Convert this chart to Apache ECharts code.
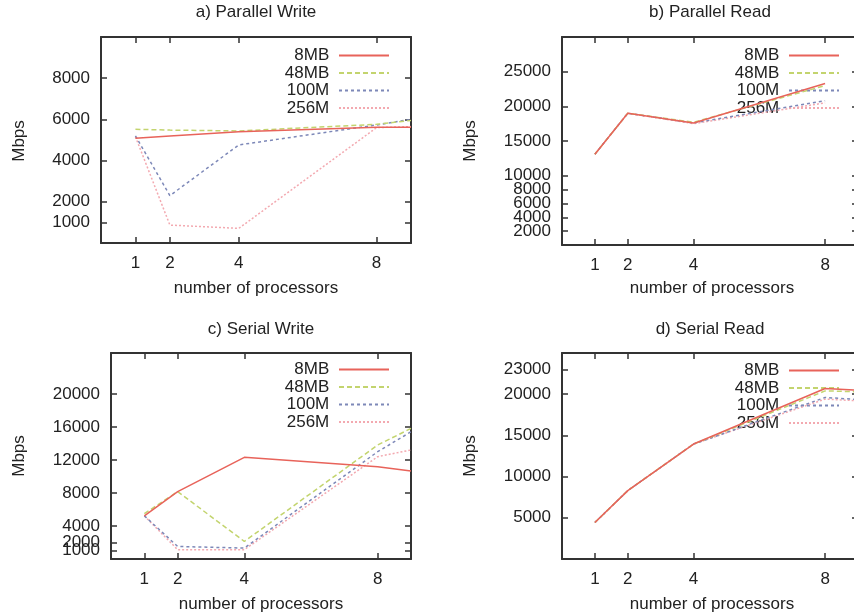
<!DOCTYPE html>
<html><head><meta charset="utf-8">
<script src="https://cdn.jsdelivr.net/npm/echarts@6/dist/echarts.min.js"></script>
<style>html,body{margin:0;padding:0;background:#fff}#c{width:854px;height:616px}</style>
</head><body><div id="c"></div>
<script>
const seriesNames = ['8MB','48MB','100M','256M'];
const xTickValues = [1,2,4,8];
// a) Parallel Write
const pwX = [1,2,4,8,9];
const pw8MB = [5080,5200,5400,5620,5620];
const pw48MB = [5520,5480,5440,5760,5950];
const pw100M = [5200,2300,4760,5730,6000];
const pw256M = [5160,870,710,5600,5650];
const pwYTicks = [1000,2000,4000,6000,8000];
// b) Parallel Read
const prX = [1,2,4,8];
const pr8MB = [13100,19000,17600,23300];
const pr48MB = [13100,19000,17700,23000];
const pr100M = [13100,19000,17600,20800];
const pr256M = [13100,19000,17500,20500];
const prYTicks = [2000,4000,6000,8000,10000,15000,20000,25000];
// c) Serial Write
const swX = [1,2,4,8,9];
const sw8MB = [5240,8180,12340,11200,10680];
const sw48MB = [5500,8180,2130,13830,15850];
const sw100M = [5240,1520,1330,13020,15440];
const sw256M = [5240,1130,1130,12420,13230];
const swYTicks = [1000,2000,4000,8000,12000,16000,20000];
// d) Serial Read
const srX = [1,2,4,8,9];
const sr8MB = [4430,8300,13950,20690,20490];
const sr48MB = [4430,8300,13950,20400,20300];
const sr100M = [4430,8300,13950,19600,19360];
const sr256M = [4430,8300,13950,19400,19200];
const srYTicks = [5000,10000,15000,20000,23000];

const FONT = 'Liberation Sans';
const TXT = '#222';
const AX = '#333';
const colors = ['#e8635a','#c3d46e','#7d88b8','#f3a9b0'];
const dashes = ['solid',[5,3],[3,3],[2,2]];

const panels = [
  {title:'a) Parallel Write', x:pwX, ys:[pw8MB,pw48MB,pw100M,pw256M], yTicks:pwYTicks, ymax:10000,
   grid:{left:101,top:37,width:310,height:206}, legend:{right:464,top:47}, tx:256, ty:12.5, nx:256, ny:288.5, mx:19, my:141},
  {title:'b) Parallel Read', x:prX, ys:[pr8MB,pr48MB,pr100M,pr256M], yTicks:prYTicks, ymax:30000,
   grid:{left:562,top:37,width:296,height:208}, legend:{right:14,top:47}, tx:710, ty:12.5, nx:712, ny:288.5, mx:470, my:141},
  {title:'c) Serial Write', x:swX, ys:[sw8MB,sw48MB,sw100M,sw256M], yTicks:swYTicks, ymax:25000,
   grid:{left:111,top:353,width:300,height:206}, legend:{right:464,top:361}, tx:261, ty:329, nx:261, ny:604.5, mx:19, my:456},
  {title:'d) Serial Read', x:srX, ys:[sr8MB,sr48MB,sr100M,sr256M], yTicks:srYTicks, ymax:25000,
   grid:{left:562,top:353,width:296,height:206}, legend:{right:14,top:362}, tx:710, ty:329, nx:712, ny:604.5, mx:470, my:456}
];

const grid = [], xAxis = [], yAxis = [], series = [], legend = [], graphic = [];
const labelStyle = {color:TXT, fontSize:17, fontFamily:FONT, hideOverlap:false};

panels.forEach((p, i) => {
  grid.push(Object.assign({outerBoundsMode:'none', containLabel:false}, p.grid));
  [['bottom',true],['top',false]].forEach(([pos, lab]) => {
    xAxis.push({type:'value', gridIndex:i, position:pos, min:0, max:9,
      axisLine:{onZero:false, lineStyle:{color:AX, width:2}},
      axisTick:{inside:true, length:6, customValues:xTickValues, lineStyle:{color:AX, width:1.5}},
      axisLabel:Object.assign({show:lab, customValues:xTickValues, margin:12,
        formatter: v => String(v)}, labelStyle),
      splitLine:{show:false}});
  });
  [['left',true],['right',false]].forEach(([pos, lab]) => {
    yAxis.push({type:'value', gridIndex:i, position:pos, min:0, max:p.ymax,
      axisLine:{onZero:false, lineStyle:{color:AX, width:2}},
      axisTick:{inside:true, length:6, customValues:p.yTicks, lineStyle:{color:AX, width:1.5}},
      axisLabel:Object.assign({show:lab, customValues:[0].concat(p.yTicks, [p.ymax]), margin:11,
        formatter: v => (v === 0 || v === p.ymax) ? '' : String(v)}, labelStyle),
      splitLine:{show:false}});
  });
  p.ys.forEach((vals, k) => {
    series.push({type:'line', name:seriesNames[k], xAxisIndex:2*i, yAxisIndex:2*i,
      data: p.x.map((xv, j) => [xv, vals[j]]),
      symbol:'none', silent:true, z: 10 - k,
      lineStyle:{color:colors[k], width:1.5, type:dashes[k]},
      itemStyle:{color:colors[k]}});
  });
  legend.push({data:seriesNames, orient:'vertical', align:'right', right:p.legend.right, top:p.legend.top,
    padding:0, itemWidth:50, itemHeight:14, itemGap:0.5, selectedMode:false,
    itemStyle:{opacity:0},
    formatter: n => n + ' ',
    textStyle:{color:TXT, fontSize:17, fontFamily:FONT}});
  graphic.push({type:'text', x:p.tx, y:p.ty, style:{text:p.title, align:'center', verticalAlign:'middle', fill:TXT, font:'17px "Liberation Sans"'}});
  graphic.push({type:'text', x:p.nx, y:p.ny, style:{text:'number of processors', align:'center', verticalAlign:'middle', fill:TXT, font:'17px "Liberation Sans"'}});
  graphic.push({type:'text', x:p.mx, y:p.my, rotation:Math.PI/2, style:{text:'Mbps', align:'center', verticalAlign:'middle', fill:TXT, font:'17px "Liberation Sans"'}});
});

const chart = echarts.init(document.getElementById('c'), null, {renderer:'canvas'});
chart.setOption({animation:false, backgroundColor:'#fff', grid, xAxis, yAxis, series, legend, graphic});
</script></body></html>
